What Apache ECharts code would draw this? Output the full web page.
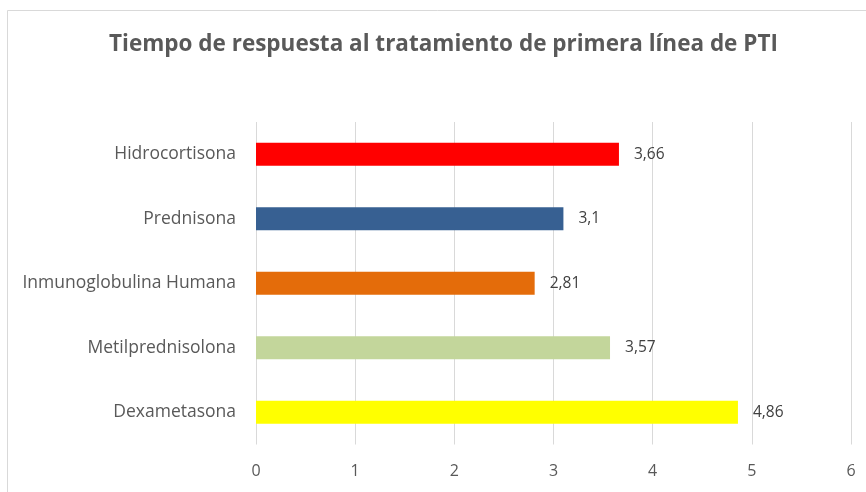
<!DOCTYPE html>
<html>
<head>
<meta charset="utf-8">
<script src="https://cdn.jsdelivr.net/npm/echarts@6/dist/echarts.min.js"></script>
<style>html,body{margin:0;padding:0;background:#fff}#c{width:866px;height:492px}</style>
</head>
<body>
<div id="c"></div>
<script>
const titleText = 'Tiempo de respuesta al tratamiento de primera línea de PTI';
const categories = ['Hidrocortisona', 'Prednisona', 'Inmunoglobulina Humana', 'Metilprednisolona', 'Dexametasona'];
const values = [3.66, 3.1, 2.81, 3.57, 4.86];
const barColors = ['#FF0000', '#376092', '#E46C0A', '#C3D69B', '#FFFF00'];
const xTicks = [0, 1, 2, 3, 4, 5, 6];

const chart = echarts.init(document.getElementById('c'), null, {renderer: 'canvas'});
chart.setOption({
  animation: false,
  backgroundColor: '#ffffff',
  graphic: [{
    type: 'rect', silent: true, z: -1,
    shape: {x: 7.5, y: 10.5, width: 900, height: 520},
    style: {fill: 'none', stroke: '#D9D9D9', lineWidth: 1}
  }],
  title: {
    text: titleText, left: 104, top: 28,
    textStyle: {fontFamily: 'Open Sans', fontWeight: 'bold', fontSize: 22.5, color: '#595959'}
  },
  grid: {left: 256, right: 15, top: 122, bottom: 47.5, containLabel: false},
  xAxis: {
    type: 'value', min: xTicks[0], max: xTicks[xTicks.length - 1], interval: 1,
    axisLine: {show: false}, axisTick: {show: false},
    splitLine: {show: true, lineStyle: {color: '#D9D9D9', width: 1}},
    axisLabel: {margin: 19, color: '#595959', fontFamily: 'Open Sans', fontSize: 16}
  },
  yAxis: {
    type: 'category', data: categories, inverse: true,
    axisLine: {show: false}, axisTick: {show: false}, splitLine: {show: false},
    axisLabel: {margin: 20, color: '#595959', fontFamily: 'Open Sans', fontSize: 17.5}
  },
  series: [{
    type: 'bar', barWidth: 23,
    data: values.map((v, i) => ({value: v, itemStyle: {color: barColors[i]}})),
    label: {
      show: true, position: 'right', distance: 15,
      color: '#404040', fontFamily: 'Open Sans', fontSize: 15.5,
      formatter: p => String(p.value).replace('.', ',')
    }
  }]
});
</script>
</body>
</html>
